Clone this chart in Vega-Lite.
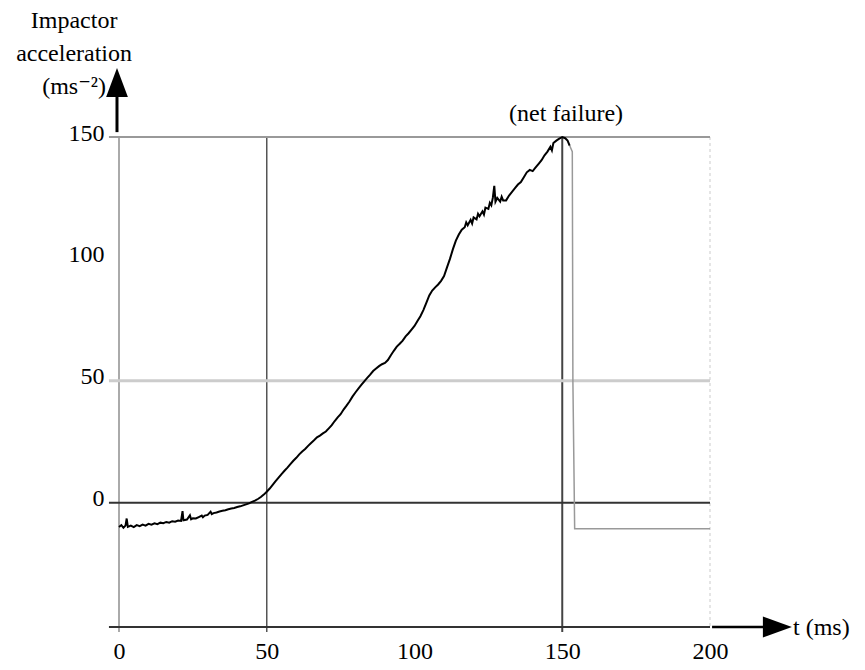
{
  "$schema": "https://vega.github.io/schema/vega-lite/v6.json",
  "width": 591,
  "height": 490,
  "autosize": {"type": "none"},
  "padding": {"left": 119, "top": 137, "right": 155, "bottom": 43},
  "background": "white",
  "config": {
    "view": {"stroke": null},
    "axis": {
      "domain": false,
      "ticks": false,
      "grid": false,
      "labelFont": "Liberation Serif, Times New Roman, DejaVu Serif, serif",
      "labelFontSize": 24,
      "labelColor": "black",
      "title": null
    },
    "text": {"font": "Liberation Serif, Times New Roman, DejaVu Serif, serif", "fontSize": 24, "color": "black"}
  },
  "datasets": {
    "curve": [
      {"t": 0, "a": -10}, {"t": 0.8, "a": -9.2}, {"t": 1.5, "a": -10.3}, {"t": 2.2, "a": -9.4}, {"t": 2.6, "a": -6.5}, {"t": 3, "a": -9.9},
      {"t": 4, "a": -9.4}, {"t": 5, "a": -10}, {"t": 6, "a": -9.2}, {"t": 7, "a": -9.6}, {"t": 8, "a": -9}, {"t": 9, "a": -9.4},
      {"t": 10, "a": -8.7}, {"t": 11, "a": -9}, {"t": 12, "a": -8.5}, {"t": 13, "a": -8.8}, {"t": 14, "a": -8.2}, {"t": 15, "a": -8.4},
      {"t": 16, "a": -7.9}, {"t": 17, "a": -8.2}, {"t": 18, "a": -7.6}, {"t": 19, "a": -7.8}, {"t": 20, "a": -7.3}, {"t": 21, "a": -7.5},
      {"t": 21.5, "a": -3.5}, {"t": 21.8, "a": -7.2}, {"t": 23, "a": -6.9}, {"t": 24, "a": -5.2}, {"t": 24.4, "a": -6.8}, {"t": 25, "a": -6.4},
      {"t": 26, "a": -6.5}, {"t": 27, "a": -5.9}, {"t": 28, "a": -5.3}, {"t": 28.4, "a": -6.0}, {"t": 29, "a": -5.3}, {"t": 30, "a": -5.0},
      {"t": 31, "a": -3.7}, {"t": 31.4, "a": -4.7}, {"t": 32, "a": -4.3}, {"t": 33, "a": -4.0}, {"t": 34, "a": -3.6}, {"t": 35, "a": -3.3},
      {"t": 36, "a": -3.1}, {"t": 37, "a": -2.7}, {"t": 38, "a": -2.4}, {"t": 39, "a": -2.2}, {"t": 40, "a": -1.8}, {"t": 41, "a": -1.5},
      {"t": 42, "a": -1.1}, {"t": 43, "a": -0.7}, {"t": 44, "a": -0.3}, {"t": 45, "a": 0.3}, {"t": 46, "a": 0.8}, {"t": 47, "a": 1.5},
      {"t": 48, "a": 2.3}, {"t": 49, "a": 3.3}, {"t": 50, "a": 4.5}, {"t": 51, "a": 5.8}, {"t": 52, "a": 7.3}, {"t": 53, "a": 8.8},
      {"t": 54, "a": 10.3}, {"t": 55, "a": 11.7}, {"t": 56, "a": 13.1}, {"t": 57, "a": 14.4}, {"t": 58, "a": 15.8}, {"t": 59, "a": 17.2},
      {"t": 60, "a": 18.4}, {"t": 61, "a": 19.8}, {"t": 62, "a": 21.0}, {"t": 63, "a": 22.0}, {"t": 64, "a": 23.3}, {"t": 65, "a": 24.5},
      {"t": 66, "a": 25.6}, {"t": 67, "a": 26.8}, {"t": 68, "a": 27.5}, {"t": 69, "a": 28.4}, {"t": 70, "a": 29.2}, {"t": 71, "a": 30.5},
      {"t": 72, "a": 31.8}, {"t": 73, "a": 33.5}, {"t": 74, "a": 35.0}, {"t": 75, "a": 36.3}, {"t": 76, "a": 38.2}, {"t": 77, "a": 39.8},
      {"t": 78, "a": 41.5}, {"t": 79, "a": 43.5}, {"t": 80, "a": 45.2}, {"t": 81, "a": 46.8}, {"t": 82, "a": 48.3}, {"t": 83, "a": 49.8},
      {"t": 84, "a": 51.2}, {"t": 85, "a": 52.5}, {"t": 86, "a": 54.0}, {"t": 87, "a": 55.0}, {"t": 88, "a": 56.0}, {"t": 89, "a": 56.8},
      {"t": 90, "a": 57.3}, {"t": 91, "a": 58.5}, {"t": 92, "a": 60.5}, {"t": 93, "a": 62.3}, {"t": 94, "a": 64.0}, {"t": 95, "a": 65.2},
      {"t": 96, "a": 66.5}, {"t": 97, "a": 68.2}, {"t": 98, "a": 69.5}, {"t": 99, "a": 71.0}, {"t": 100, "a": 72.5}, {"t": 101, "a": 74.5},
      {"t": 102, "a": 76.5}, {"t": 103, "a": 79.0}, {"t": 104, "a": 82.0}, {"t": 105, "a": 85.0}, {"t": 106, "a": 87.0}, {"t": 107, "a": 88.3},
      {"t": 108, "a": 89.5}, {"t": 109, "a": 91.0}, {"t": 110, "a": 93.0}, {"t": 111, "a": 96.5}, {"t": 112, "a": 100.0}, {"t": 113, "a": 104.0},
      {"t": 114, "a": 107.5}, {"t": 115, "a": 110.0}, {"t": 116, "a": 112.0}, {"t": 117, "a": 113.0}, {"t": 117.5, "a": 115}, {"t": 118, "a": 113.8},
      {"t": 119, "a": 116.0}, {"t": 119.5, "a": 114.5}, {"t": 120, "a": 117.0}, {"t": 121, "a": 116.2}, {"t": 121.5, "a": 118.5}, {"t": 122, "a": 117.5},
      {"t": 123, "a": 119.5}, {"t": 123.5, "a": 118.2}, {"t": 124, "a": 121}, {"t": 125, "a": 120.5}, {"t": 125.5, "a": 123}, {"t": 126, "a": 122},
      {"t": 126.5, "a": 125}, {"t": 127, "a": 130}, {"t": 127.4, "a": 123.5}, {"t": 128, "a": 125}, {"t": 129, "a": 123.5}, {"t": 129.5, "a": 125.5},
      {"t": 130, "a": 124}, {"t": 131, "a": 124}, {"t": 132, "a": 126}, {"t": 133, "a": 127.5}, {"t": 134, "a": 129}, {"t": 135, "a": 130.5},
      {"t": 136, "a": 131.5}, {"t": 137, "a": 133.5}, {"t": 138, "a": 135.5}, {"t": 139, "a": 136.5}, {"t": 140, "a": 136}, {"t": 141, "a": 137.5},
      {"t": 142, "a": 139}, {"t": 143, "a": 140.5}, {"t": 144, "a": 142.5}, {"t": 145, "a": 144}, {"t": 146, "a": 146}, {"t": 146.5, "a": 144.5},
      {"t": 147, "a": 147.5}, {"t": 148, "a": 148.5}, {"t": 149, "a": 149.3}, {"t": 150, "a": 150}, {"t": 151, "a": 149.5}, {"t": 151.8, "a": 148.5},
      {"t": 152.5, "a": 146.5}
    ],
    "failure": [
      {"t": 152.5, "a": 146.5}, {"t": 153.4, "a": 144}, {"t": 153.5, "a": 100}, {"t": 153.6, "a": 50}, {"t": 154.2, "a": -10.7}, {"t": 200, "a": -10.7}
    ]
  },
  "layer": [
    {
      "data": {"values": [{}]},
      "mark": {"type": "rule", "color": "#aaaaaa", "strokeWidth": 2},
      "encoding": {"x": {"datum": 0, "type": "quantitative"}, "y": {"datum": 150}, "y2": {"datum": -53}}
    },
    {
      "data": {"values": [{}]},
      "mark": {"type": "rule", "color": "#555555", "strokeWidth": 1.5},
      "encoding": {"x": {"datum": 50, "type": "quantitative"}, "y": {"datum": 150}, "y2": {"datum": -53}}
    },
    {
      "data": {"values": [{}]},
      "mark": {"type": "rule", "color": "#444444", "strokeWidth": 2},
      "encoding": {"x": {"datum": 150, "type": "quantitative"}, "y": {"datum": 150}, "y2": {"datum": -53}}
    },
    {
      "data": {"values": [{}]},
      "mark": {"type": "rule", "color": "#dddddd", "strokeWidth": 1.5, "strokeDash": [3, 3]},
      "encoding": {"x": {"datum": 200, "type": "quantitative"}, "y": {"datum": 150}, "y2": {"datum": -51}}
    },
    {
      "data": {"values": [{}]},
      "mark": {"type": "rule", "color": "#999999", "strokeWidth": 2},
      "encoding": {"y": {"datum": 150, "type": "quantitative"}, "x": {"datum": -3.4}, "x2": {"datum": 200}}
    },
    {
      "data": {"values": [{}]},
      "mark": {"type": "rule", "color": "#cccccc", "strokeWidth": 3},
      "encoding": {"y": {"datum": 50, "type": "quantitative"}, "x": {"datum": -3.4}, "x2": {"datum": 200}}
    },
    {
      "data": {"values": [{}]},
      "mark": {"type": "rule", "color": "#333333", "strokeWidth": 2},
      "encoding": {"y": {"datum": 0, "type": "quantitative"}, "x": {"datum": -3.4}, "x2": {"datum": 200}}
    },
    {
      "data": {"values": [{}]},
      "mark": {"type": "rule", "color": "#333333", "strokeWidth": 2},
      "encoding": {"y": {"datum": -51, "type": "quantitative"}, "x": {"datum": -3.4}, "x2": {"datum": 200}}
    },
    {
      "data": {"name": "failure"},
      "mark": {"type": "line", "color": "#999999", "strokeWidth": 1.5},
      "encoding": {
        "x": {"field": "t", "type": "quantitative"},
        "y": {"field": "a", "type": "quantitative"},
        "order": {"field": "t"}
      }
    },
    {
      "data": {"name": "curve"},
      "mark": {"type": "line", "color": "black", "strokeWidth": 2},
      "encoding": {
        "x": {
          "field": "t",
          "type": "quantitative",
          "scale": {"domain": [0, 200], "nice": false, "zero": false},
          "axis": {"values": [0, 50, 100, 150, 200], "labelPadding": 12, "labelFlush": false}
        },
        "y": {
          "field": "a",
          "type": "quantitative",
          "scale": {"domain": [-51, 150], "nice": false, "zero": false},
          "axis": {"values": [0, 50, 100, 150], "labelPadding": 15, "labelOffset": -4}
        }
      }
    },
    {
      "data": {"values": [{}]},
      "mark": {"type": "rule", "color": "black", "strokeWidth": 3},
      "encoding": {"x": {"datum": -0.68, "type": "quantitative"}, "y": {"datum": 152}, "y2": {"datum": 166.4}}
    },
    {
      "data": {"values": [{}]},
      "mark": {"type": "point", "shape": "M-0.75,0L0,-2L0.75,0Z", "filled": true, "color": "black", "opacity": 1, "size": 841, "strokeWidth": 0},
      "encoding": {"x": {"datum": -0.68, "type": "quantitative"}, "y": {"datum": 166.4}}
    },
    {
      "data": {"values": [{}]},
      "mark": {"type": "rule", "color": "black", "strokeWidth": 2.5},
      "encoding": {"y": {"datum": -51, "type": "quantitative"}, "x": {"datum": 200.7}, "x2": {"datum": 218.5}}
    },
    {
      "data": {"values": [{}]},
      "mark": {"type": "point", "shape": "M0,-0.72L2,0L0,0.72Z", "filled": true, "color": "black", "opacity": 1, "size": 841, "strokeWidth": 0},
      "encoding": {"x": {"datum": 217.9, "type": "quantitative"}, "y": {"datum": -51}}
    },
    {
      "data": {"values": [{}]},
      "mark": {"type": "text", "align": "center", "baseline": "alphabetic", "lineHeight": 33, "text": ["Impactor", "acceleration", "(ms⁻²)"]},
      "encoding": {"x": {"datum": -15.2, "type": "quantitative"}, "y": {"datum": 194.7}}
    },
    {
      "data": {"values": [{}]},
      "mark": {"type": "text", "align": "center", "baseline": "alphabetic", "text": "(net failure)"},
      "encoding": {"x": {"datum": 151.3, "type": "quantitative"}, "y": {"datum": 156.6}}
    },
    {
      "data": {"values": [{}]},
      "mark": {"type": "text", "align": "left", "baseline": "alphabetic", "text": "t (ms)"},
      "encoding": {"x": {"datum": 228.1, "type": "quantitative"}, "y": {"datum": -54.3}}
    }
  ]
}
